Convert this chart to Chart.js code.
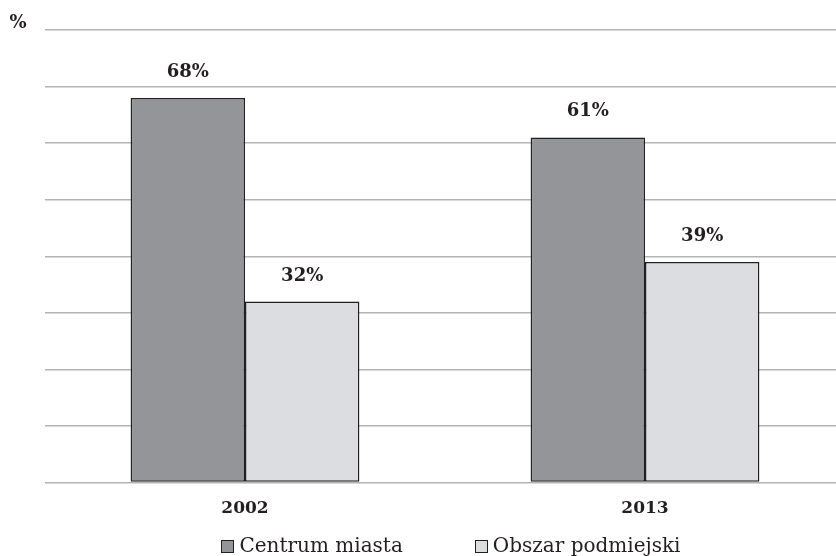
<!DOCTYPE html>
<html>
<head>
<meta charset="utf-8">
<script src="https://cdn.jsdelivr.net/npm/chart.js@4.4.1/dist/chart.umd.min.js"></script>
<style>
    html, body { margin: 0; padding: 0; background: #fff; overflow: hidden; }
    #wrap { position: relative; width: 846px; height: 556px; }
    #legend {
        position: absolute; left: 0; top: 533px; width: 902px;
        display: flex; justify-content: center; gap: 72px;
        font-family: "DejaVu Serif", "Liberation Serif", serif; font-size: 20px; color: #231f20;
        line-height: 24px; white-space: nowrap;
    }
    #legend .item { display: flex; align-items: center; }
    #legend .box { width: 11px; height: 11px; border: 1px solid #231f20; margin-right: 5px; margin-top: 2px; }
</style>
</head>
<body>
<div id="wrap">
    <canvas id="chart" width="846" height="556"></canvas>
    <div id="legend"></div>
</div>
<script>
const years = ['2002', '2013'];
const seriesNames = ['Centrum miasta', 'Obszar podmiejski'];
const centrumValues = [68, 61];
const obszarValues = [32, 39];
const seriesColors = ['#939598', '#dcdde0'];
const yMax = 80;
const yStep = 10;

const ink = '#231f20';
const serif = '"DejaVu Serif", "Liberation Serif", serif';

// value labels above bars + the "%" unit in the top-left corner
const labelPlugin = {
    id: 'labels',
    afterDatasetsDraw(chart) {
        const ctx = chart.ctx;
        ctx.save();
        ctx.fillStyle = ink;
        ctx.font = 'bold 18px ' + serif;
        ctx.textAlign = 'center';
        ctx.textBaseline = 'alphabetic';
        chart.data.datasets.forEach((ds, i) => {
            chart.getDatasetMeta(i).data.forEach((bar, j) => {
                ctx.fillText(ds.data[j] + '%', bar.x, bar.y - 21);
            });
        });
        ctx.fillText('%', 18, 28);
        ctx.restore();
    }
};

const chart = new Chart(document.getElementById('chart'), {
    type: 'bar',
    data: {
        labels: years,
        datasets: [
            {
                label: seriesNames[0],
                data: centrumValues,
                backgroundColor: seriesColors[0],
                borderColor: ink,
                borderWidth: 1.5,
                borderSkipped: false
            },
            {
                label: seriesNames[1],
                data: obszarValues,
                backgroundColor: seriesColors[1],
                borderColor: ink,
                borderWidth: 1.5,
                borderSkipped: false
            }
        ]
    },
    options: {
        responsive: false,
        animation: false,
        categoryPercentage: 0.572,
        barPercentage: 1.0,
        layout: { padding: { left: 45, right: 1, top: 30, bottom: 21 } },
        scales: {
            x: {
                grid: { display: false, drawTicks: false },
                border: { display: false },
                ticks: {
                    color: ink,
                    padding: 16,
                    font: { family: serif, size: 17, weight: 'bold' }
                }
            },
            y: {
                min: 0,
                max: yMax,
                ticks: { display: false, stepSize: yStep },
                grid: { color: '#b4b4b4', lineWidth: 1.5, drawTicks: false },
                border: { display: false }
            }
        },
        plugins: {
            legend: { display: false },
            tooltip: { enabled: false }
        }
    },
    plugins: [labelPlugin]
});

// legend under the chart, built from the datasets
const legend = document.getElementById('legend');
chart.data.datasets.forEach(ds => {
    const item = document.createElement('div');
    item.className = 'item';
    const box = document.createElement('span');
    box.className = 'box';
    box.style.background = ds.backgroundColor;
    const text = document.createElement('span');
    text.textContent = ds.label;
    item.appendChild(box);
    item.appendChild(text);
    legend.appendChild(item);
});
</script>
</body>
</html>
